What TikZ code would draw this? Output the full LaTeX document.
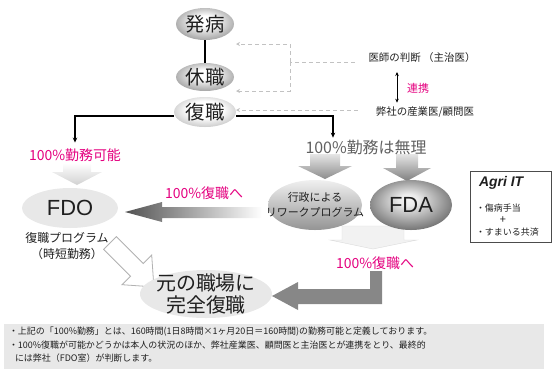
\documentclass[tikz,border=0pt]{standalone}
\usepackage{fontspec}
\setmainfont{Noto Sans CJK JP}
\newfontfamily\lat{Liberation Sans}
\usetikzlibrary{shapes.geometric,arrows.meta}
\definecolor{pk}{RGB}{228,0,127}
\pgfdeclareradialshading{eball}{\pgfpoint{0bp}{6bp}}{color(0bp)=(white); color(8bp)=(white); color(28bp)=(black!36); color(50bp)=(black!45)}
\pgfdeclareradialshading{fukuball}{\pgfpoint{0bp}{6bp}}{color(0bp)=(white); color(14bp)=(white); color(29bp)=(black!22); color(50bp)=(black!28)}
\pgfdeclareradialshading{fdaball}{\pgfpoint{-2bp}{6bp}}{color(0bp)=(black!4); color(6bp)=(black!8); color(28bp)=(black!55); color(50bp)=(black!62)}
\begin{document}
\begin{tikzpicture}[x=1bp,y=-1bp,
  every node/.style={inner sep=0pt, outer sep=0pt, text=black!88},
  ov/.style={ellipse, inner sep=0pt},
  ln/.style={line width=1.2bp, black, -{Stealth[length=5bp,width=4.5bp]}},
  dsh/.style={draw=black!24, line width=1bp, dash pattern=on 4bp off 3bp},
  dsharr/.style={dsh, -{Stealth[length=4bp,width=4bp]}},
  pinktxt/.style={text=pk, font=\fontsize{14}{14}\selectfont},
]
\useasboundingbox (0,0) rectangle (557,369);

% faded arrow under 100% kano
\shade[top color=white, bottom color=black!18] (63,163) -- (91,163) -- (91,172) -- (102,172) -- (77,185) -- (52,172) -- (63,172) -- cycle;
% wide faded arrow
\filldraw[draw=black!14, fill=black!5] (342,226) -- (404,226) -- (404,240) -- (417,240) -- (373,249) -- (330,240) -- (342,240) -- cycle;
% outline arrow FDO -> kanzen
\filldraw[draw=black!30, fill=white, line width=0.8bp] (116.4,236.6) -- (143.3,263.5) -- (151.7,255.1) -- (153.9,286.9) -- (122.1,284.7) -- (130.5,276.3) -- (103.6,249.4) -- cycle;
% gray arrows under muri
\shade[top color=black!10, bottom color=black!45] (310,154) -- (340,154) -- (340,166) -- (352,166) -- (325,179) -- (298,166) -- (310,166) -- cycle;
\shade[top color=black!10, bottom color=black!50] (396,154) -- (418,154) -- (418,168) -- (431,168) -- (407,181) -- (383,168) -- (396,168) -- cycle;

% top ellipses
\node[ov, minimum width=58bp, minimum height=32bp, shade, shading=eball] (hatsu) at (205,24) {\fontsize{19.5}{19.5}\selectfont 発病};
\node[ov, minimum width=58bp, minimum height=28bp, shade, shading=eball] (kyu) at (205,77) {\fontsize{19.5}{19.5}\selectfont 休職};
\node[ov, minimum width=62bp, minimum height=30bp, shade, shading=fukuball] (fuku) at (205,112) {\fontsize{19.5}{19.5}\selectfont 復職};
\draw[line width=1.2bp] (hatsu) -- (kyu);

% right annotations
\node[font=\fontsize{10.5}{10.5}\selectfont] (ishi) at (422,58) {医師の判断 （主治医）};
\node[font=\fontsize{10.5}{10.5}\selectfont] (sangyo) at (425,112) {弊社の産業医/顧問医};
\node[text=pk, font=\fontsize{11}{11}\selectfont] (renkei) at (418,88) {連携};
\coordinate (lk) at (397,0);
\draw[line width=0.8bp, {Stealth[length=4bp,width=3.5bp]}-{Stealth[length=4bp,width=3.5bp]}, shorten <=9bp, shorten >=4bp] (ishi.south -| lk) -- (sangyo.north -| lk);
\coordinate (bm) at (290,62);
\coordinate (a1) at (236,44);
\coordinate (a2) at (236,91);
\coordinate (a3) at (236,110);
\draw[dsh] ([xshift=-14bp]bm -| ishi.west) -- (bm);
\draw[dsharr] (bm) |- (a1);
\draw[dsharr] (bm) |- (a2);
\draw[dsharr] ([xshift=-18bp]a3 -| sangyo.west) -- (a3);

% branch labels
\node[text=pk, font=\fontsize{14}{14}\selectfont] (kano) at (75,155) {100\%勤務可能};
\node[text=black!62, font=\fontsize{16}{16}\selectfont] (muri) at (366,147) {100\%勤務は無理};
\coordinate (mr) at (333,0);
\draw[ln, shorten >=6bp] ([yshift=-4bp]fuku.west) -| (kano.north);
\draw[ln, shorten >=2bp] ([yshift=-4bp]fuku.east) -| (mr |- muri.north);

% middle ellipses
\node[ov, minimum width=94bp, minimum height=50bp, top color=black!6, bottom color=black!42] (gyo) at (315,205) {};
\node[align=center, font=\fontsize{11}{15}\selectfont] (gyot) at (gyo.center) {行政による\\リワークプログラム};
\node[ov, minimum width=82bp, minimum height=50bp, shade, shading=fdaball] (fda) at (411,205) {\lat\fontsize{22}{22}\selectfont FDA};
\node[ov, minimum width=96bp, minimum height=40bp, fill=black!9] (fdo) at (70,208) {\lat\fontsize{22}{22}\selectfont FDO};
\node[align=center, font=\fontsize{12}{17}\selectfont] (prog) at (67,246) {復職プログラム\\（時短勤務）};

% big left arrow gyo -> fdo
\shade[left color=black!68, right color=white] (125,212) -- (162,202) -- (162,207) -- (262,207) -- (262,218) -- (162,218) -- (162,222) -- cycle;
\node[pinktxt] (fk1) at (204,193) {100\%復職へ};

% kanzen fukushoku
\node[ov, minimum width=132bp, minimum height=48bp, fill=black!9] (kan) at (206,294) {};
\node[align=center, font=\fontsize{20}{22}\selectfont] (kant) at (kan.center) {元の職場に\\完全復職};

% lower return arrow
\node[pinktxt] (fk2) at (375,263) {100\%復職へ};
\fill[black!47] (370,271) -- (382,271) -- (382,304) -- (298,304) -- (298,310) -- (272,296) -- (298,282) -- (298,289) -- (370,289) -- cycle;

% Agri IT box
\node[draw=black!70, line width=0.8bp, minimum width=81bp, minimum height=71bp] (agri) at (510.5,206.5) {};
\node[anchor=west, font={\lat\bfseries\itshape\fontsize{14}{14}\selectfont}] (agt) at (479,183) {Agri IT};
\node[anchor=west, font=\fontsize{9}{9}\selectfont] (i1) at (476,208) {・傷病手当};
\node[font=\fontsize{11}{11}\selectfont] (plus) at (503,220) {+};
\node[anchor=west, font=\fontsize{9}{9}\selectfont] (i2) at (476,232) {・すまいる共済};

% bottom note
\node[fill=black!9, minimum width=540bp, minimum height=45bp, anchor=north west] (notebox) at (4,324) {};
\node[anchor=north west, align=left, font=\fontsize{9}{14}\selectfont] (note) at (9,326.5) {・上記の「100\%勤務」とは、160時間(1日8時間×1ヶ月20日＝160時間)の勤務可能と定義しております。\\・100\%復職が可能かどうかは本人の状況のほか、弊社産業医、顧問医と主治医とが連携をとり、最終的\\\hspace{6bp}には弊社（FDO室）が判断します。};
\end{tikzpicture}
\end{document}
